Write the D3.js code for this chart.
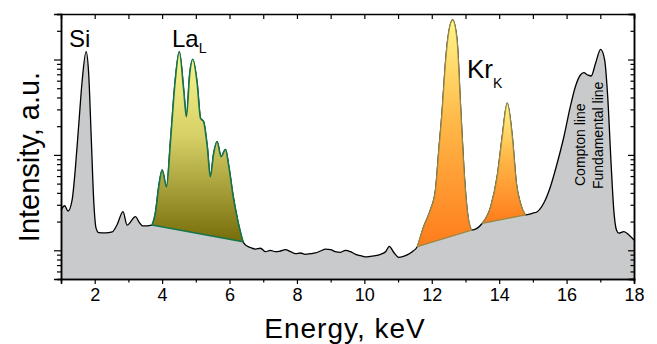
<!DOCTYPE html>
<html>
<head>
<meta charset="utf-8">
<script src="https://cdn.jsdelivr.net/npm/d3@7"></script>
<style>
  body { margin: 0; background: #fff; }
  svg { font-family: "Liberation Sans", Arial, sans-serif; }
</style>
</head>
<body>
<svg id="chart" width="657" height="344"></svg>
<script>
// spectrum
const energy = [1.00, 1.11, 1.21, 1.33, 1.43, 1.53, 1.63, 1.745, 1.82, 1.90, 1.97, 2.04, 2.12, 2.32, 2.52, 2.66, 2.84, 2.96, 3.21, 3.31, 3.42,
  3.70, 3.80, 3.90, 4.00, 4.13, 4.25, 4.39, 4.51, 4.64, 4.72, 4.82, 4.91, 5.04, 5.14, 5.23, 5.34, 5.43, 5.53, 5.63, 5.75, 5.88, 5.98, 6.11, 6.24, 6.40,
  6.47, 6.62, 6.77, 6.92, 7.07, 7.21, 7.36, 7.51, 7.66, 7.81, 7.96, 8.10, 8.25, 8.40, 8.55, 8.70, 8.85, 9.00, 9.14, 9.29, 9.44, 9.59, 9.74, 9.89,
  10.03, 10.18, 10.33, 10.48, 10.63, 10.74, 10.87, 11.02, 11.22, 11.42,
  11.57, 11.76, 11.96, 12.11, 12.21, 12.31, 12.39, 12.46, 12.62, 12.75, 12.85, 12.95, 13.05, 13.18,
  13.50, 13.75, 13.94, 14.09, 14.24, 14.39, 14.51, 14.63, 14.78,
  14.98, 15.13, 15.32, 15.52, 15.72, 15.92, 16.11, 16.26, 16.41, 16.51, 16.63, 16.73, 16.86, 17.01, 17.13, 17.22, 17.32, 17.40, 17.48, 17.55, 17.70, 17.85, 18.00];
const intensity = [26.5, 29.3, 25.8, 33.7, 75.2, 216, 610, 1207, 722, 143, 33.7, 17.1, 15.3, 15.2, 15.6, 18.4, 25.4, 18.4, 22.5, 19.9, 18.0,
  18.4, 24.6, 46.4, 69.5, 46.4, 143, 610, 1207, 479, 252, 717, 1005, 563, 242, 223, 122, 59.1, 104, 138, 95.8, 114, 75.2, 36.5, 20.8, 12.3,
  11.4, 10.7, 10.3, 10.5, 9.67, 10.0, 9.67, 9.83, 10.15, 9.67, 9.21, 9.37, 9.08, 9.21, 9.37, 9.83, 10.3, 10.15, 9.67, 9.53, 10.0, 9.67, 9.08, 8.78,
  8.51, 8.65, 8.78, 9.08, 9.67, 11.0, 9.53, 8.44, 8.78, 9.67,
  10.9, 17.7, 26.5, 42.9, 113, 296, 776, 1479, 2596, 1601, 348, 75.2, 26.5, 16.3,
  19.2, 28.7, 59.1, 155, 348, 155, 50.4, 31.1, 23.5,
  24.4, 25.4, 31.1, 46.4, 81.7, 155, 320, 519, 688, 727, 688, 672, 913, 1279, 988, 408, 81.7, 26.5, 16.3, 15.1, 15.7, 14.5, 12.8];

// energy windows of the shaded peaks
const laRange = [3.70, 6.40];
const krRanges = [[11.57, 13.18], [13.50, 14.78]];

const xTicks = [2, 4, 6, 8, 10, 12, 14, 16, 18];
const xDomain = [1, 18];
const yDomain = [5, 3000];

const margin = { top: 14, right: 23, bottom: 65, left: 61 };
const width = 657 - margin.left - margin.right;
const height = 344 - margin.top - margin.bottom;

const data = energy.map((e, i) => ({ e: e, v: intensity[i] }));

const svg = d3.select('#chart');
const defs = svg.append('defs');

const laGrad = defs.append('linearGradient')
  .attr('id', 'laGrad')
  .attr('x1', 0).attr('y1', 0).attr('x2', 0).attr('y2', 1);
laGrad.append('stop').attr('offset', '0%').attr('stop-color', '#faf78e');
laGrad.append('stop').attr('offset', '45%').attr('stop-color', '#d6cf66');
laGrad.append('stop').attr('offset', '100%').attr('stop-color', '#766d0a');

const krGrad = defs.append('linearGradient')
  .attr('id', 'krGrad')
  .attr('x1', 0).attr('y1', 0).attr('x2', 0).attr('y2', 1);
krGrad.append('stop').attr('offset', '0%').attr('stop-color', '#fff68a');
krGrad.append('stop').attr('offset', '45%').attr('stop-color', '#ffb848');
krGrad.append('stop').attr('offset', '100%').attr('stop-color', '#ff7c1c');

const g = svg.append('g')
  .attr('transform', `translate(${margin.left}, ${margin.top})`);

const x = d3.scaleLinear().domain(xDomain).range([0, width]);
const y = d3.scaleLog().domain(yDomain).range([height, 0]);

const line = d3.line()
  .x(d => x(d.e))
  .y(d => y(d.v))
  .curve(d3.curveMonotoneX);

const area = d3.area()
  .x(d => x(d.e))
  .y0(height)
  .y1(d => y(d.v))
  .curve(d3.curveMonotoneX);

g.append('path')
  .datum(data)
  .attr('fill', '#c9cacc')
  .attr('d', area);

g.append('path')
  .datum(data)
  .attr('fill', 'none')
  .attr('stroke', '#000')
  .attr('stroke-width', 1.3)
  .attr('d', line);

// peak area between the curve and a straight baseline
function peakPath(range) {
  const pts = data.filter(d => d.e >= range[0] - 1e-6 && d.e <= range[1] + 1e-6);
  const first = pts[0];
  return line(pts) + `L${x(first.e)},${y(first.v)}Z`;
}

g.append('path')
  .attr('d', peakPath(laRange))
  .attr('fill', 'url(#laGrad)')
  .attr('stroke', '#14754a')
  .attr('stroke-width', 1.6)
  .attr('stroke-linejoin', 'round');

krRanges.forEach(r => {
  g.append('path')
    .attr('d', peakPath(r))
    .attr('fill', 'url(#krGrad)')
    .attr('stroke', '#9a8844')
    .attr('stroke-width', 1.3)
    .attr('stroke-linejoin', 'round');
});

// axes
const majorY = [10, 100, 1000];
const minorY = [];
[1, 10, 100, 1000].forEach(p => {
  for (let k = 2; k <= 9; k++) {
    const v = p * k;
    if (v >= yDomain[0] && v <= yDomain[1]) minorY.push(v);
  }
});
const minorX = [3, 5, 7, 9, 11, 13, 15, 17];

const axisStyle = sel => {
  sel.select('.domain').attr('stroke-width', 1.5);
  sel.selectAll('.tick line').attr('stroke-width', 1.2);
};

g.append('g')
  .attr('transform', `translate(0, ${height})`)
  .call(d3.axisBottom(x).tickValues(xTicks).tickSize(5).tickPadding(4).tickFormat(d3.format('d')))
  .call(axisStyle)
  .call(s => s.selectAll('text').attr('font-size', 18).attr('fill', '#000'));

g.append('g')
  .attr('transform', `translate(0, ${height})`)
  .call(d3.axisBottom(x).tickValues(minorX).tickSize(3.5).tickFormat(''))
  .call(axisStyle);

g.append('g')
  .call(d3.axisTop(x).tickValues(xTicks.concat(minorX)).tickSize(-5).tickFormat(''))
  .call(axisStyle);

g.append('g')
  .call(d3.axisLeft(y).tickValues(majorY).tickSize(7).tickFormat(''))
  .call(axisStyle);

g.append('g')
  .call(d3.axisLeft(y).tickValues(minorY).tickSize(4).tickFormat(''))
  .call(axisStyle);

g.append('g')
  .attr('transform', `translate(${width}, 0)`)
  .call(d3.axisRight(y).tickValues(majorY).tickSize(-6).tickFormat(''))
  .call(axisStyle);

g.append('g')
  .attr('transform', `translate(${width}, 0)`)
  .call(d3.axisRight(y).tickValues(minorY).tickSize(-3.5).tickFormat(''))
  .call(axisStyle);

// axis titles
svg.append('text')
  .attr('x', 345)
  .attr('y', 338)
  .attr('text-anchor', 'middle')
  .attr('font-size', 28)
  .attr('letter-spacing', 1)
  .text('Energy, keV');

svg.append('text')
  .attr('transform', 'translate(39, 157) rotate(-90)')
  .attr('text-anchor', 'middle')
  .attr('font-size', 29)
  .text('Intensity, a.u.');

// peak labels
svg.append('text')
  .attr('x', 69).attr('y', 47)
  .attr('font-size', 24)
  .text('Si');

const la = svg.append('text')
  .attr('x', 172).attr('y', 47)
  .attr('font-size', 24)
  .text('La');
la.append('tspan').attr('font-size', 14).attr('dy', 6).text('L');

const kr = svg.append('text')
  .attr('x', 467).attr('y', 78)
  .attr('font-size', 26)
  .text('Kr');
kr.append('tspan').attr('font-size', 14).attr('dy', 10).text('K');

svg.append('text')
  .attr('transform', 'translate(585, 186) rotate(-90)')
  .attr('font-size', 14)
  .text('Compton line');

svg.append('text')
  .attr('transform', 'translate(603, 189) rotate(-90)')
  .attr('font-size', 14)
  .text('Fundamental line');
</script>
</body>
</html>
